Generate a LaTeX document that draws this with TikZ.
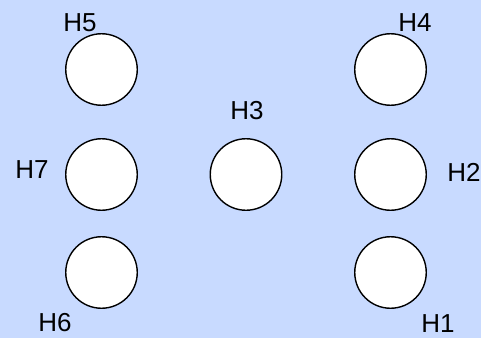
\documentclass[tikz,border=0pt]{standalone}
\usepackage{fontspec}
\setmainfont{Liberation Sans}
\definecolor{paneblue}{RGB}{200,218,255}
\begin{document}
\begin{tikzpicture}[x=1pt,y=1pt,
  hole/.style={circle,draw=black,fill=white,line width=1.4pt,inner sep=0pt,minimum size=71.5pt},
  tag/.style={inner sep=0pt,anchor=center,font=\fontsize{26}{28}\selectfont}]
  % background panel
  \fill[paneblue] (0,0) rectangle (481,338);
  \useasboundingbox (0,0) rectangle (481,338);
  % holes
  \node[hole] (h5) at (101.5,268.5) {};
  \node[hole] (h4) at (390.5,268.5) {};
  \node[hole] (h7) at (101.5,163.5) {};
  \node[hole] (h3) at (246,163.5) {};
  \node[hole] (h2) at (390.5,163.5) {};
  \node[hole] (h6) at (101.5,65.5) {};
  \node[hole] (h1) at (390.5,65.5) {};
  % hole names
  \node[tag] (t5) at (80,315.5) {H5};
  \node[tag] (t4) at (415,315.5) {H4};
  \node[tag] (t3) at (247,227.5) {H3};
  \node[tag] (t7) at (32,168) {H7};
  \node[tag] (t2) at (464,166) {H2};
  \node[tag] (t6) at (55,15) {H6};
  \node[tag] (t1) at (438,14.5) {H1};
\end{tikzpicture}
\end{document}
